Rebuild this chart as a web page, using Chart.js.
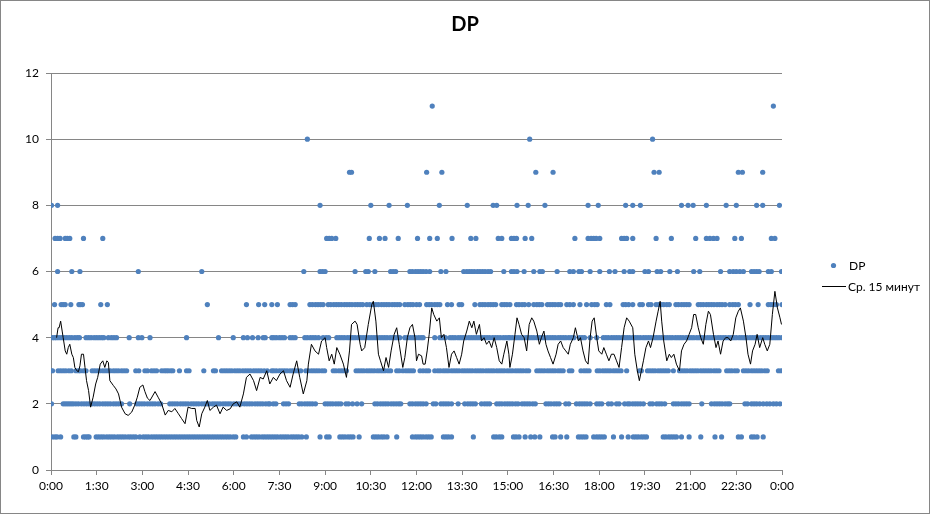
<!DOCTYPE html>
<html>
<head>
<meta charset="utf-8">
<title>DP</title>
<script src="https://cdn.jsdelivr.net/npm/chart.js@4.4.1/dist/chart.umd.min.js"></script>
<style>
html, body { margin: 0; padding: 0; background: #fff; }
#wrap { width: 930px; height: 514px; position: relative; }
</style>
</head>
<body>
<div id="wrap"><canvas id="chart1"></canvas></div>
<script>
// minutes since 0:00 at which each DP value was recorded
const dp1 = [3,8,12,19,45,49,64,68,72,75,89,94,99,104,110,115,120,125,131,136,141,146,152,157,162,167,175,182,187,192,198,203,208,213,218,223,228,233,238,243,248,253,258,263,268,273,278,283,288,293,298,303,308,313,318,323,328,333,338,343,348,353,359,364,379,385,395,400,405,410,416,421,426,431,436,441,446,452,457,462,467,473,478,483,488,494,503,530,543,548,569,574,579,585,590,595,607,635,640,645,651,656,662,681,712,718,723,728,733,739,744,749,773,778,783,789,832,872,877,883,888,911,916,922,934,945,953,963,988,993,1004,1016,1039,1044,1049,1054,1069,1075,1080,1085,1090,1108,1124,1137,1147,1152,1157,1163,1168,1173,1206,1211,1217,1222,1227,1232,1242,1257,1280,1308,1321,1354,1360,1380,1385,1391,1403]
const dp2 = [1,24,28,32,36,40,44,49,54,60,65,70,75,81,86,91,96,102,107,112,117,123,128,133,139,155,169,174,179,184,190,195,200,205,211,216,234,239,244,249,255,260,265,270,276,281,286,291,297,302,307,312,318,323,328,333,339,344,349,354,360,365,370,375,381,386,391,396,402,407,412,417,423,428,431,438,443,458,463,468,489,494,500,505,510,515,521,540,545,550,555,561,566,571,581,586,594,603,612,638,643,649,654,659,664,670,675,680,685,689,707,712,718,723,728,733,739,753,758,768,773,778,783,789,802,815,821,826,831,836,848,854,859,864,878,883,888,894,899,904,909,915,920,928,933,938,943,949,954,975,980,985,991,996,1001,1014,1020,1035,1041,1046,1051,1056,1062,1075,1080,1085,1098,1104,1114,1119,1130,1136,1140,1146,1151,1156,1161,1167,1180,1185,1193,1198,1203,1209,1226,1231,1236,1242,1247,1252,1257,1282,1301,1307,1312,1317,1322,1328,1333,1337,1367,1372,1380,1385,1390,1396,1403,1410,1416,1423,1429,1436]
const dp3 = [0,3,14,19,24,29,35,40,49,54,58,64,69,81,86,91,96,102,107,112,117,123,128,133,139,144,149,167,173,185,190,198,203,208,218,223,227,231,236,240,253,267,272,301,320,324,336,341,346,351,356,362,367,372,378,383,388,393,399,404,409,414,420,426,435,439,444,450,455,460,465,471,476,481,486,492,502,507,513,518,523,528,534,539,556,561,567,572,577,582,601,606,611,616,622,627,632,637,643,648,653,658,664,669,681,686,693,699,704,709,714,727,733,739,744,756,762,767,773,778,783,789,794,799,804,810,815,820,825,830,836,841,846,851,857,862,867,872,878,883,888,893,899,904,909,915,920,925,930,936,941,957,962,967,972,978,983,988,993,999,1004,1009,1021,1026,1044,1050,1055,1060,1076,1081,1087,1092,1097,1102,1108,1113,1118,1123,1134,1159,1163,1175,1180,1185,1190,1196,1201,1206,1211,1216,1226,1238,1243,1248,1253,1259,1264,1269,1274,1280,1285,1290,1295,1300,1306,1311,1316,1331,1336,1341,1347,1352,1364,1369,1374,1380,1385,1390,1395,1400,1406,1411,1433,1438]
const dp4 = [3,7,11,16,21,26,31,36,41,47,52,56,69,74,79,85,90,95,100,104,113,119,124,129,154,172,179,195,267,330,359,379,387,397,408,418,422,435,439,444,450,455,460,471,476,481,500,505,511,516,521,527,536,542,547,563,568,573,578,584,589,594,599,605,610,615,620,626,631,636,641,647,652,657,662,668,673,678,683,687,697,702,708,713,718,724,729,733,756,766,771,777,786,791,796,802,807,812,817,823,828,833,838,843,849,854,859,864,870,875,880,885,891,896,901,904,909,915,920,925,930,936,941,946,951,957,962,967,972,978,983,988,993,999,1004,1009,1014,1020,1025,1030,1041,1046,1051,1062,1075,1088,1093,1098,1104,1109,1114,1119,1125,1130,1135,1140,1146,1151,1156,1161,1167,1172,1177,1182,1188,1193,1198,1203,1209,1214,1219,1224,1230,1235,1240,1245,1251,1256,1261,1266,1272,1277,1282,1287,1293,1298,1303,1308,1314,1319,1324,1329,1335,1340,1345,1350,1356,1361,1366,1371,1377,1382,1387,1392,1398,1403,1408,1413,1419,1424,1429,1434,1440]
const dp5 = [7,20,24,28,39,55,58,62,98,111,308,385,409,421,435,446,471,476,481,510,515,521,526,531,536,546,551,557,562,567,572,578,583,588,593,599,604,609,614,622,628,635,640,645,651,656,661,666,672,677,682,687,697,703,708,713,720,726,740,745,750,756,761,766,781,789,804,809,835,845,850,855,861,866,871,876,888,893,898,904,917,922,928,933,941,951,957,962,967,978,983,988,993,999,1004,1016,1022,1029,1042,1055,1065,1071,1076,1094,1101,1127,1132,1138,1146,1160,1165,1177,1182,1192,1197,1202,1207,1213,1218,1231,1236,1242,1247,1252,1257,1275,1280,1285,1291,1296,1301,1306,1312,1317,1322,1328,1337,1343,1348,1354,1377,1393,1413,1418,1423,1429,1440]
const dp6 = [13,41,57,172,297,498,530,535,540,599,620,625,638,669,674,679,707,712,718,723,728,733,739,746,768,778,813,819,824,829,834,840,845,850,855,861,866,892,907,912,918,932,951,963,968,997,1022,1029,1040,1045,1062,1081,1100,1111,1129,1140,1146,1170,1177,1194,1201,1219,1234,1266,1278,1319,1337,1344,1350,1357,1364,1380,1385,1390,1395,1413,1419,1439]
const dp7 = [8,13,18,28,32,37,64,102,543,548,553,561,627,647,658,684,722,746,761,790,827,837,881,888,907,912,917,934,947,1032,1058,1064,1069,1074,1081,1124,1129,1134,1146,1192,1222,1270,1291,1298,1305,1312,1347,1360,1419,1426]
const dp8 = [1,13,530,630,666,702,765,820,871,878,918,940,973,1058,1078,1132,1146,1161,1242,1255,1265,1291,1330,1350,1390,1402,1435]
const dp9 = [588,592,740,770,955,989,1188,1198,1354,1362,1402]
const dp10 = [505,943,1185]
const dp11 = [751,1423]

// 15 minute average
const avgTime = [11,14,16,19,22,24,28,31,34,37,41,44,47,51,54,57,60,64,67,70,74,78,83,88,92,97,102,106,110,113,116,123,128,133,139,146,152,159,165,170,175,181,185,190,195,
    205,211,218,225,231,238,244,251,257,264,270,277,284,287,292,297,303,308,313,320,326,333,339,346,353,359,366,372,379,385,392,399,405,412,418,425,
    431,438,444,451,458,464,471,477,484,490,497,504,507,513,520,527,533,540,543,548,553,558,563,569,576,582,588,592,599,603,609,612,618,625,632,635,640,645,649,655,660,665,670,676,681,686,
    693,697,702,707,712,717,720,724,730,733,737,741,745,750,754,760,765,769,774,779,784,789,794,799,804,809,813,819,824,829,833,838,844,848,853,858,863,868,873,878,883,888,892,898,902,
    904,909,914,918,922,927,932,937,942,947,951,957,962,966,971,975,979,984,989,995,999,1004,1009,1014,1019,1023,1029,1033,1039,1043,1048,1053,1058,1062,1066,1070,1075,1079,1085,1089,1094,1099,1104,1109,1114,1119,1124,1129,1134,1139,
    1146,1150,1155,1159,1163,1167,1172,1177,1181,1186,1192,1196,1200,1203,1207,1213,1218,1222,1227,1232,1238,1242,1247,1252,1257,1262,1266,1270,1275,1280,1285,1290,1295,1299,1305,1310,1314,1319,1324,1329,1334,1339,1344,1349,1354,1358,1364,1369,1373,1378,1382,1387,1391,1396,1402,1406,1411,1416,1421,1426,1431,1436,1439]
const avgValue = [4.0,4.3,4.3,4.5,4.2,4.0,3.6,3.5,3.7,3.8,3.5,3.4,3.1,3.0,2.97,3.15,3.5,3.5,3.1,2.7,2.4,1.9,2.2,2.6,2.8,3.2,3.3,3.1,3.3,3.25,2.7,2.55,2.45,2.3,1.9,1.7,1.65,1.75,1.96,2.2,2.5,2.57,2.37,2.17,2.1,
    2.37,2.2,2.0,1.66,1.8,1.76,1.86,1.7,1.56,1.4,1.9,1.86,1.86,1.5,1.3,1.7,1.9,2.1,1.8,1.9,1.96,1.7,1.9,1.8,1.85,2.0,2.06,1.9,2.3,2.8,2.9,2.7,2.4,2.8,2.75,3.0,
    2.6,2.8,2.7,2.9,3.0,2.7,2.5,2.9,3.3,2.8,2.3,2.7,3.2,3.8,3.6,3.5,3.9,4.0,3.7,3.3,3.5,3.2,3.7,3.5,3.2,2.8,3.6,4.4,4.5,4.4,3.8,3.6,3.7,4.4,5.0,5.1,4.5,3.5,3.3,3.0,3.4,3.1,3.6,4.1,4.3,3.8,
    3.1,3.4,4.0,4.3,4.4,4.0,3.3,3.5,3.45,3.2,3.2,3.6,4.1,4.9,4.7,4.5,4.6,4.0,4.1,3.7,3.1,3.5,3.6,3.4,3.2,3.5,3.9,4.2,4.5,4.3,4.5,4.1,4.4,3.9,4.0,3.8,3.9,3.7,4.0,3.7,3.3,3.2,3.5,3.9,3.5,
    3.1,3.5,4.1,4.6,4.4,4.1,4.0,3.6,4.4,4.6,4.5,4.2,3.8,4.0,4.2,3.8,3.6,3.4,3.2,3.5,3.8,3.9,3.7,3.6,3.5,3.8,4.0,4.3,3.9,4.0,3.6,3.3,3.2,4.0,4.5,4.6,4.0,3.6,3.5,3.7,3.5,3.3,3.5,3.5,3.3,3.1,3.7,4.3,4.6,4.5,
    4.3,3.5,3.0,2.7,3.0,3.3,3.7,3.9,3.7,4.0,4.5,4.8,5.1,4.5,3.9,3.3,3.5,3.4,3.5,3.2,3.0,3.6,3.8,3.9,4.1,4.3,4.7,4.7,4.3,4.0,3.8,4.4,4.8,4.7,4.1,3.7,3.9,3.5,3.9,4.0,4.0,3.9,4.1,4.6,4.8,4.9,4.5,4.0,3.5,3.2,3.6,3.8,4.1,3.7,4.0,3.8,3.6,3.8,4.7,5.4,4.9,4.6,4.4]

const xTickStep = 90
const yTicks = [0, 2, 4, 6, 8, 10, 12]

const blue = '#4F81BD'
const gridGrey = '#868686'

function timeLabel(v) {
    const h = Math.floor(v / 60) % 24
    const m = v % 60
    return h + ':' + String(m).padStart(2, '0')
}

function renderChart() {
    const ctx = document.querySelector('#chart1').getContext('2d')

    const rows = [dp1, dp2, dp3, dp4, dp5, dp6, dp7, dp8, dp9, dp10, dp11]
    const points = rows.flatMap((mins, i) => mins.map(m => ({ x: m, y: i + 1 })))
    const avg = avgTime.map((t, i) => ({ x: t, y: avgValue[i] }))

    const frame = {
        id: 'frame',
        beforeDraw(chart) {
            const c = chart.ctx
            c.save()
            c.fillStyle = '#fff'
            c.fillRect(0, 0, chart.width, chart.height)
            c.strokeStyle = gridGrey
            c.lineWidth = 1
            c.strokeRect(0.5, 0.5, chart.width - 1, chart.height - 1)
            c.restore()
        }
    }

    // legend to the right of the plot, like the spreadsheet one
    const sideLegend = {
        id: 'sideLegend',
        afterDraw(chart) {
            const c = chart.ctx
            const ds = chart.data.datasets
            c.save()
            c.font = '12px Lato'
            c.textBaseline = 'middle'
            c.textAlign = 'left'

            c.beginPath()
            c.arc(833.5, 265.5, 2.6, 0, Math.PI * 2)
            c.fillStyle = ds[1].backgroundColor
            c.fill()
            c.fillStyle = '#000'
            c.fillText(ds[1].label, 849, 266)

            c.beginPath()
            c.moveTo(822, 286.5)
            c.lineTo(846, 286.5)
            c.strokeStyle = ds[0].borderColor
            c.lineWidth = 1
            c.stroke()
            c.fillText(ds[0].label, 848, 287)
            c.restore()
        }
    }

    const chart = new Chart(ctx, {
        type: 'scatter',
        data: {
            datasets: [
                {
                    type: 'line',
                    label: 'Ср. 15 минут',
                    data: avg,
                    borderColor: '#000',
                    borderWidth: 1,
                    pointRadius: 0,
                    tension: 0,
                    order: 0
                },
                {
                    label: 'DP',
                    data: points,
                    backgroundColor: blue,
                    borderWidth: 0,
                    pointRadius: 2.6,
                    order: 1
                }
            ]
        },
        options: {
            responsive: true,
            maintainAspectRatio: false,
            animation: false,
            events: [],
            devicePixelRatio: 1,
            layout: { padding: 0 },
            plugins: {
                legend: { display: false },
                tooltip: { enabled: false },
                title: {
                    display: true,
                    text: 'DP',
                    color: '#000',
                    font: { family: 'Lato', size: 20, weight: 'bold' },
                    padding: { top: 13, bottom: 36 }
                }
            },
            scales: {
                x: {
                    type: 'linear',
                    min: 0,
                    max: 1440,
                    afterFit: s => { s.height = 44 },
                    ticks: {
                        stepSize: xTickStep,
                        autoSkip: false,
                        maxRotation: 0,
                        padding: 4,
                        color: '#000',
                        font: { family: 'Lato', size: 12 },
                        callback: v => timeLabel(v)
                    },
                    grid: { drawOnChartArea: false, color: gridGrey, tickLength: 5 },
                    border: { color: gridGrey }
                },
                y: {
                    min: 0,
                    max: 12,
                    afterFit: s => { s.width = 51 },
                    afterBuildTicks: s => { s.ticks = yTicks.map(v => ({ value: v })) },
                    ticks: {
                        padding: 7,
                        color: '#000',
                        font: { family: 'Lato', size: 12 }
                    },
                    grid: { color: gridGrey, tickLength: 5 },
                    border: { color: gridGrey }
                },
                // empty strip on the right that holds the legend
                side: {
                    position: 'right',
                    afterFit: s => { s.width = 148 },
                    ticks: { display: false },
                    grid: { display: false },
                    border: { display: false }
                }
            }
        },
        plugins: [frame, sideLegend]
    })
}

renderChart()
</script>
</body>
</html>
